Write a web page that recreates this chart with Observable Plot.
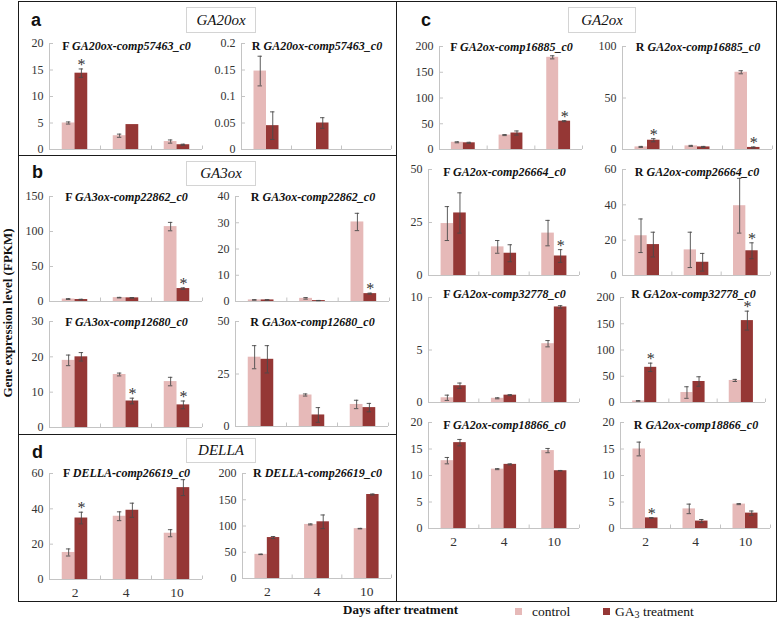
<!DOCTYPE html>
<html>
<head>
<meta charset="utf-8">
<script src="https://cdn.jsdelivr.net/npm/d3@7"></script>
<script src="https://cdn.jsdelivr.net/npm/@observablehq/plot@0.6"></script>
<style>
  body { margin: 0; background: #fff; }
  #root { position: relative; width: 778px; height: 624px; font-family: "Liberation Serif", "Times New Roman", serif; color: #111; overflow: hidden; }
  .frame { position: absolute; border: 1.5px solid #1a1a1a; box-sizing: border-box; }
  .hline { position: absolute; height: 0; border-top: 1.5px solid #1a1a1a; }
  .plabel { position: absolute; font-family: "Liberation Sans", Arial, sans-serif; font-weight: bold; font-size: 18px; line-height: 1; }
  .fam { position: absolute; border: 1px solid #d4d4d4; font-style: italic; font-size: 15px; display: flex; align-items: center; justify-content: center; box-sizing: border-box; }
  .title { position: absolute; font-size: 12px; font-weight: bold; white-space: nowrap; transform: translateX(-50%); line-height: 1; }
  .chart { position: absolute; }
  .ylab { position: absolute; left: 8px; top: 313px; transform: translate(-50%, -50%) rotate(-90deg); font-weight: bold; font-size: 13px; white-space: nowrap; }
  .xlab { position: absolute; font-weight: bold; font-size: 13px; white-space: nowrap; }
  .leg { position: absolute; font-family: "Liberation Serif", serif; font-size: 13.5px; white-space: nowrap; line-height: 1; }
  .sw { position: absolute; width: 7px; height: 7px; }
</style>
</head>
<body>
<div id="root"></div>
<script>
// ---------------- data ----------------
const days = ["2", "4", "10"];
const seriesNames = ["control", "GA3 treatment"];
const familyNames = ["GA20ox", "GA3ox", "GA2ox", "DELLA"];
const panelLetters = ["a", "b", "c", "d"];

// a — GA20ox
const aF_gene = "GA20ox-comp57463_c0";
const aF_ctrl = [5.0, 2.6, 1.5];
const aF_ctrlErr = [0.2, 0.3, 0.3];
const aF_ga3 = [14.4, 4.7, 0.9];
const aF_ga3Err = [0.8, 0, 0.1];
const aF_sig = [1, 0, 0];
const aF_ticks = [0, 5, 10, 15, 20];

const aR_gene = "GA20ox-comp57463_c0";
const aR_ctrl = [0.148, 0, 0];
const aR_ctrlErr = [0.028, 0, 0];
const aR_ga3 = [0.045, 0.05, 0];
const aR_ga3Err = [0.026, 0.01, 0];
const aR_sig = [0, 0, 0];
const aR_ticks = [0, 0.05, 0.1, 0.15, 0.2];

// b — GA3ox
const b1F_gene = "GA3ox-comp22862_c0";
const b1F_ctrl = [3.5, 5.5, 107];
const b1F_ctrlErr = [0.6, 0.4, 6];
const b1F_ga3 = [2.8, 5.2, 18.5];
const b1F_ga3Err = [0.4, 0.5, 1];
const b1F_sig = [0, 0, 1];
const b1F_ticks = [0, 50, 100, 150];

const b1R_gene = "GA3ox-comp22862_c0";
const b1R_ctrl = [0.6, 1.2, 30.3];
const b1R_ctrlErr = [0.1, 0.3, 3.3];
const b1R_ga3 = [0.6, 0.35, 3.0];
const b1R_ga3Err = [0.1, 0.05, 0.2];
const b1R_sig = [0, 0, 1];
const b1R_ticks = [0, 10, 20, 30, 40];

const b2F_gene = "GA3ox-comp12680_c0";
const b2F_ctrl = [19.0, 15.0, 13.0];
const b2F_ctrlErr = [1.5, 0.4, 1.2];
const b2F_ga3 = [20.0, 7.5, 6.4];
const b2F_ga3Err = [1.2, 0.8, 1.1];
const b2F_sig = [0, 1, 1];
const b2F_ticks = [0, 10, 20, 30];

const b2R_gene = "GA3ox-comp12680_c0";
const b2R_ctrl = [33.0, 15.0, 10.5];
const b2R_ctrlErr = [5.5, 0.5, 2.0];
const b2R_ga3 = [32.0, 5.5, 9.0];
const b2R_ga3Err = [6.5, 3.5, 2.0];
const b2R_sig = [0, 0, 0];
const b2R_ticks = [0, 25, 50];

// c — GA2ox
const c1F_gene = "GA2ox-comp16885_c0";
const c1F_ctrl = [14, 28, 179];
const c1F_ctrlErr = [1, 1, 3];
const c1F_ga3 = [13, 32, 55];
const c1F_ga3Err = [1, 4, 1];
const c1F_sig = [0, 0, 1];
const c1F_ticks = [0, 50, 100, 150, 200];

const c1R_gene = "GA2ox-comp16885_c0";
const c1R_ctrl = [2.5, 3.5, 75];
const c1R_ctrlErr = [0.5, 0.5, 1.5];
const c1R_ga3 = [9.0, 2.5, 2.0];
const c1R_ga3Err = [1.5, 0.5, 0.5];
const c1R_sig = [1, 0, 1];
const c1R_ticks = [0, 50, 100];

const c2F_gene = "GA2ox-comp26664_c0";
const c2F_ctrl = [24.5, 13.5, 20.0];
const c2F_ctrlErr = [8.0, 3.0, 6.0];
const c2F_ga3 = [29.5, 10.5, 9.2];
const c2F_ga3Err = [9.5, 4.0, 3.0];
const c2F_sig = [0, 0, 1];
const c2F_ticks = [0, 25, 50];

const c2R_gene = "GA2ox-comp26664_c0";
const c2R_ctrl = [22.5, 14.5, 39.5];
const c2R_ctrlErr = [9.5, 10.0, 15.5];
const c2R_ga3 = [17.5, 7.5, 14.0];
const c2R_ga3Err = [7.0, 5.0, 4.5];
const c2R_sig = [0, 0, 1];
const c2R_ticks = [0, 20, 40, 60];

const c3F_gene = "GA2ox-comp32778_c0";
const c3F_ctrl = [0.45, 0.4, 5.6];
const c3F_ctrlErr = [0.25, 0.05, 0.3];
const c3F_ga3 = [1.6, 0.7, 9.1];
const c3F_ga3Err = [0.25, 0.05, 0.12];
const c3F_sig = [0, 0, 0];
const c3F_ticks = [0, 5, 10];

const c3R_gene = "GA2ox-comp32778_c0";
const c3R_ctrl = [3, 19, 42];
const c3R_ctrlErr = [0.6, 11, 2];
const c3R_ga3 = [67, 40, 156];
const c3R_ga3Err = [8, 9, 18];
const c3R_sig = [1, 0, 1];
const c3R_ticks = [0, 50, 100, 150, 200];

const c4F_gene = "GA2ox-comp18866_c0";
const c4F_ctrl = [12.8, 11.2, 14.7];
const c4F_ctrlErr = [0.6, 0.1, 0.4];
const c4F_ga3 = [16.2, 12.1, 10.9];
const c4F_ga3Err = [0.6, 0.1, 0.05];
const c4F_sig = [0, 0, 0];
const c4F_ticks = [0, 5, 10, 15, 20];

const c4R_gene = "GA2ox-comp18866_c0";
const c4R_ctrl = [15.0, 3.7, 4.6];
const c4R_ctrlErr = [1.3, 0.9, 0.1];
const c4R_ga3 = [2.0, 1.4, 2.9];
const c4R_ga3Err = [0.05, 0.3, 0.4];
const c4R_sig = [1, 0, 0];
const c4R_ticks = [0, 5, 10, 15, 20];

// d — DELLA
const dF_gene = "DELLA-comp26619_c0";
const dF_ctrl = [15.3, 35.8, 26.2];
const dF_ctrlErr = [2.0, 2.5, 2.0];
const dF_ga3 = [34.8, 39.2, 52.0];
const dF_ga3Err = [3.3, 4.0, 4.5];
const dF_sig = [1, 0, 0];
const dF_ticks = [0, 20, 40, 60];

const dR_gene = "DELLA-comp26619_c0";
const dR_ctrl = [46, 103, 95];
const dR_ctrlErr = [0.5, 1, 0.5];
const dR_ga3 = [78, 108, 160];
const dR_ga3Err = [2, 13, 1];
const dR_sig = [0, 0, 0];
const dR_ticks = [0, 50, 100, 150, 200];

// ---------------- styling ----------------
const CTRL = "#e6b9b8";
const GA3 = "#953735";
const AXIS = "#c4c4c4";
const ERR = "#4a4a4a";
const TXT = "#333";

const root = document.getElementById("root");
function add(html) { root.insertAdjacentHTML("beforeend", html); }

// frames
add(`<div class="frame" style="left:18px;top:1px;width:379px;height:601px"></div>`);
add(`<div class="frame" style="left:395.5px;top:1px;width:381px;height:601px"></div>`);
add(`<div class="hline" style="left:18px;top:154.5px;width:379px"></div>`);
add(`<div class="hline" style="left:18px;top:433.5px;width:379px"></div>`);

// panel letters and family boxes
add(`<div class="plabel" style="left:31px;top:11px">${panelLetters[0]}</div>`);
add(`<div class="plabel" style="left:32px;top:163px">${panelLetters[1]}</div>`);
add(`<div class="plabel" style="left:421px;top:11px">${panelLetters[2]}</div>`);
add(`<div class="plabel" style="left:32px;top:443px">${panelLetters[3]}</div>`);
add(`<div class="fam" style="left:186px;top:7px;width:70px;height:26px">${familyNames[0]}</div>`);
add(`<div class="fam" style="left:186px;top:161px;width:70px;height:25px">${familyNames[1]}</div>`);
add(`<div class="fam" style="left:568px;top:7px;width:68px;height:26px">${familyNames[2]}</div>`);
add(`<div class="fam" style="left:186px;top:438px;width:70px;height:25px">${familyNames[3]}</div>`);

// axis titles and legend
add(`<div class="ylab">Gene expression level (FPKM)</div>`);
add(`<div class="xlab" style="left:343px;top:602px">Days after treatment</div>`);
add(`<div class="sw" style="left:515px;top:608px;background:${CTRL}"></div>`);
add(`<div class="leg" style="left:532px;top:605px">${seriesNames[0]}</div>`);
add(`<div class="sw" style="left:603px;top:608px;background:${GA3}"></div>`);
add(`<div class="leg" style="left:615px;top:605px">GA<sub style="font-size:10px;vertical-align:-2px">3</sub> treatment</div>`);

function chart(prefix, gene, ctrl, ctrlErr, ga3, ga3Err, sig, ticks, g) {
  const ml = 36, mr = 6, mt = 12, mb = g.xlabels ? 26 : 6;
  const pw = g.R - g.L, ph = g.B - g.T;
  const width = ml + pw + mr, height = mt + ph + mb;
  const ymax = ticks[ticks.length - 1];
  const ux = 3 / pw, uy = ymax / ph;
  const rows = days.map((d, i) => ({i, day: d, ctrl: ctrl[i], ce: ctrlErr[i], ga3: ga3[i], ge: ga3Err[i], sig: sig[i]}));
  const capW = 2.2 * ux;
  const cC = d => d.i + 0.375, gC = d => d.i + 0.625;
  const ctrlE = rows.filter(d => d.ctrl > 0 && d.ce > 0);
  const ga3E = rows.filter(d => d.ga3 > 0 && d.ge > 0);
  const marks = [
    Plot.rectY(rows, {x1: d => d.i + 0.25, x2: d => d.i + 0.5, y1: 0, y2: "ctrl", fill: CTRL}),
    Plot.rectY(rows, {x1: d => d.i + 0.5, x2: d => d.i + 0.75, y1: 0, y2: "ga3", fill: GA3}),
    Plot.ruleY([0], {stroke: AXIS, strokeWidth: 1}),
    Plot.ruleX([0], {stroke: AXIS, strokeWidth: 1}),
    Plot.ruleY(ticks, {x1: 0, x2: 4 * ux, stroke: AXIS}),
    Plot.ruleX([1, 2, 3], {y1: 0, y2: 3.5 * uy, stroke: AXIS}),
    Plot.ruleX(ctrlE, {x: cC, y1: d => Math.max(0, d.ctrl - d.ce), y2: d => d.ctrl + d.ce, stroke: ERR, strokeWidth: 0.9}),
    Plot.ruleY(ctrlE, {y: d => d.ctrl + d.ce, x1: d => cC(d) - capW, x2: d => cC(d) + capW, stroke: ERR, strokeWidth: 0.9}),
    Plot.ruleY(ctrlE, {y: d => Math.max(0, d.ctrl - d.ce), x1: d => cC(d) - capW, x2: d => cC(d) + capW, stroke: ERR, strokeWidth: 0.9}),
    Plot.ruleX(ga3E, {x: gC, y1: d => Math.max(0, d.ga3 - d.ge), y2: d => d.ga3 + d.ge, stroke: ERR, strokeWidth: 0.9}),
    Plot.ruleY(ga3E, {y: d => d.ga3 + d.ge, x1: d => gC(d) - capW, x2: d => gC(d) + capW, stroke: ERR, strokeWidth: 0.9}),
    Plot.ruleY(ga3E, {y: d => Math.max(0, d.ga3 - d.ge), x1: d => gC(d) - capW, x2: d => gC(d) + capW, stroke: ERR, strokeWidth: 0.9}),
    Plot.text(rows.filter(d => d.sig), {x: gC, y: d => d.ga3 + d.ge, text: () => "*", dy: -4, fontSize: 16, fill: TXT}),
    Plot.axisY(ticks, {anchor: "left", tickSize: 0, tickPadding: 6, tickFormat: d => String(d), fontSize: 12, fill: TXT})
  ];
  if (g.xlabels) {
    marks.push(Plot.axisX([0.5, 1.5, 2.5], {anchor: "bottom", tickSize: 0, tickPadding: 8, tickFormat: d => days[Math.floor(d)], fontSize: 13.5, fill: TXT}));
  }
  const svg = Plot.plot({
    width, height,
    marginLeft: ml, marginRight: mr, marginTop: mt, marginBottom: mb,
    x: {domain: [0, 3], axis: g.xlabels ? undefined : null},
    y: {domain: [0, ymax]},
    style: {fontFamily: "Liberation Serif, Times New Roman, serif", background: "transparent", overflow: "visible", color: TXT},
    marks
  });
  const div = document.createElement("div");
  div.className = "chart";
  div.style.left = (g.L - ml) + "px";
  div.style.top = (g.T - mt) + "px";
  div.appendChild(svg);
  root.appendChild(div);
  add(`<div class="title" style="left:${(g.L + g.R) / 2 + 1}px;top:${g.T - 6 + (g.tdy || 0)}px">${prefix} <i>${gene}</i></div>`);
}

// left column
chart("F", aF_gene, aF_ctrl, aF_ctrlErr, aF_ga3, aF_ga3Err, aF_sig, aF_ticks, {L: 49, R: 202, T: 43, B: 149, tdy: 3});
chart("R", aR_gene, aR_ctrl, aR_ctrlErr, aR_ga3, aR_ga3Err, aR_sig, aR_ticks, {L: 241, R: 391, T: 43, B: 149, tdy: 3});
chart("F", b1F_gene, b1F_ctrl, b1F_ctrlErr, b1F_ga3, b1F_ga3Err, b1F_sig, b1F_ticks, {L: 49, R: 202, T: 196, B: 301, tdy: 1});
chart("R", b1R_gene, b1R_ctrl, b1R_ctrlErr, b1R_ga3, b1R_ga3Err, b1R_sig, b1R_ticks, {L: 235, R: 389, T: 196, B: 301, tdy: 1});
chart("F", b2F_gene, b2F_ctrl, b2F_ctrlErr, b2F_ga3, b2F_ga3Err, b2F_sig, b2F_ticks, {L: 49, R: 202, T: 321, B: 427, tdy: 1});
chart("R", b2R_gene, b2R_ctrl, b2R_ctrlErr, b2R_ga3, b2R_ga3Err, b2R_sig, b2R_ticks, {L: 235, R: 388, T: 321, B: 426, tdy: 1});
chart("F", dF_gene, dF_ctrl, dF_ctrlErr, dF_ga3, dF_ga3Err, dF_sig, dF_ticks, {L: 49, R: 202, T: 473, B: 579, xlabels: true, tdy: 0});
chart("R", dR_gene, dR_ctrl, dR_ctrlErr, dR_ga3, dR_ga3Err, dR_sig, dR_ticks, {L: 242, R: 391, T: 473, B: 578, xlabels: true, tdy: 0});

// right column
chart("F", c1F_gene, c1F_ctrl, c1F_ctrlErr, c1F_ga3, c1F_ga3Err, c1F_sig, c1F_ticks, {L: 439, R: 582, T: 46, B: 149, tdy: 1});
chart("R", c1R_gene, c1R_ctrl, c1R_ctrlErr, c1R_ga3, c1R_ga3Err, c1R_sig, c1R_ticks, {L: 622, R: 772, T: 46, B: 149, tdy: 1});
chart("F", c2F_gene, c2F_ctrl, c2F_ctrlErr, c2F_ga3, c2F_ga3Err, c2F_sig, c2F_ticks, {L: 428, R: 579, T: 169, B: 275, tdy: 3});
chart("R", c2R_gene, c2R_ctrl, c2R_ctrlErr, c2R_ga3, c2R_ga3Err, c2R_sig, c2R_ticks, {L: 622, R: 770, T: 169, B: 275, tdy: 3});
chart("F", c3F_gene, c3F_ctrl, c3F_ctrlErr, c3F_ga3, c3F_ga3Err, c3F_sig, c3F_ticks, {L: 428, R: 579, T: 297, B: 402, tdy: -3});
chart("R", c3R_gene, c3R_ctrl, c3R_ctrlErr, c3R_ga3, c3R_ga3Err, c3R_sig, c3R_ticks, {L: 620, R: 765, T: 297, B: 402, tdy: -3});
chart("F", c4F_gene, c4F_ctrl, c4F_ctrlErr, c4F_ga3, c4F_ga3Err, c4F_sig, c4F_ticks, {L: 428, R: 579, T: 422, B: 528, xlabels: true, tdy: 3});
chart("R", c4R_gene, c4R_ctrl, c4R_ctrlErr, c4R_ga3, c4R_ga3Err, c4R_sig, c4R_ticks, {L: 620, R: 770, T: 422, B: 528, xlabels: true, tdy: 3});
</script>
</body>
</html>
